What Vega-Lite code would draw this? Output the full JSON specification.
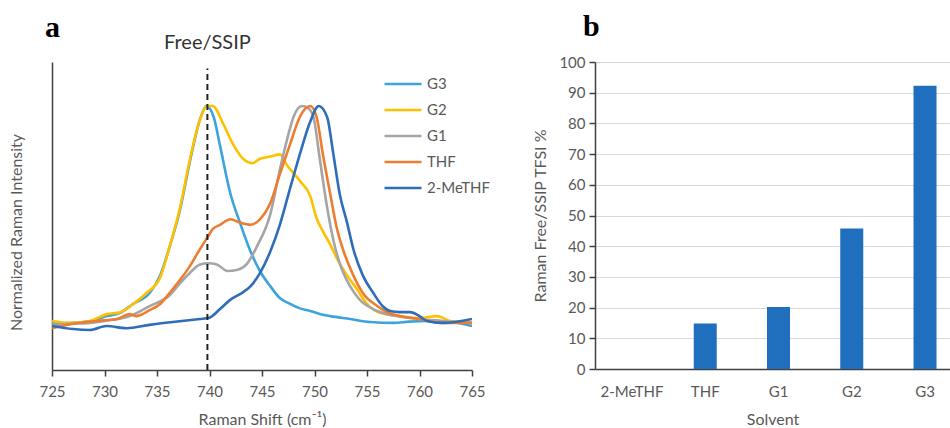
{
  "$schema": "https://vega.github.io/schema/vega-lite/v6.json",
  "background": "white",
  "padding": {"left": 8, "top": 12, "right": 0, "bottom": 0},
  "bounds": "flush",
  "spacing": 123,
  "config": {
    "font": "Lato",
    "view": {"stroke": null},
    "axis": {
      "labelColor": "#595959",
      "titleColor": "#595959",
      "labelFont": "Lato",
      "titleFont": "Lato",
      "labelFontSize": 15,
      "titleFontSize": 16,
      "titleFontWeight": "normal",
      "domainColor": "#404040",
      "tickColor": "#404040",
      "domainWidth": 1.5
    }
  },
  "datasets": {
    "spectra": [
      {"solvent":"G3","shift":725,"intensity":0.01},{"solvent":"G3","shift":727,"intensity":0.014},{"solvent":"G3","shift":728.5,"intensity":0.02},{"solvent":"G3","shift":730.2,"intensity":0.045},{"solvent":"G3","shift":731.5,"intensity":0.06},{"solvent":"G3","shift":732.7,"intensity":0.1},{"solvent":"G3","shift":734.3,"intensity":0.15},{"solvent":"G3","shift":735.3,"intensity":0.23},{"solvent":"G3","shift":736.2,"intensity":0.36},{"solvent":"G3","shift":737.2,"intensity":0.53},{"solvent":"G3","shift":738.1,"intensity":0.74},{"solvent":"G3","shift":739.1,"intensity":0.94},{"solvent":"G3","shift":739.7,"intensity":1.0},{"solvent":"G3","shift":740.4,"intensity":0.95},{"solvent":"G3","shift":741,"intensity":0.82},{"solvent":"G3","shift":742,"intensity":0.6},{"solvent":"G3","shift":742.9,"intensity":0.47},{"solvent":"G3","shift":743.9,"intensity":0.34},{"solvent":"G3","shift":744.8,"intensity":0.25},{"solvent":"G3","shift":745.8,"intensity":0.18},{"solvent":"G3","shift":746.7,"intensity":0.127},{"solvent":"G3","shift":747.7,"intensity":0.1},{"solvent":"G3","shift":748.6,"intensity":0.08},{"solvent":"G3","shift":749.6,"intensity":0.068},{"solvent":"G3","shift":750.5,"intensity":0.055},{"solvent":"G3","shift":751.5,"intensity":0.045},{"solvent":"G3","shift":753.4,"intensity":0.032},{"solvent":"G3","shift":755.3,"intensity":0.018},{"solvent":"G3","shift":757.5,"intensity":0.014},{"solvent":"G3","shift":759,"intensity":0.02},{"solvent":"G3","shift":760.7,"intensity":0.023},{"solvent":"G3","shift":763,"intensity":0.018},{"solvent":"G3","shift":765,"intensity":0.0},
      {"solvent":"G2","shift":725,"intensity":0.023},{"solvent":"G2","shift":726.7,"intensity":0.014},{"solvent":"G2","shift":728.6,"intensity":0.023},{"solvent":"G2","shift":730.2,"intensity":0.054},{"solvent":"G2","shift":731.5,"intensity":0.063},{"solvent":"G2","shift":733.1,"intensity":0.113},{"solvent":"G2","shift":734,"intensity":0.15},{"solvent":"G2","shift":735.3,"intensity":0.22},{"solvent":"G2","shift":736.2,"intensity":0.36},{"solvent":"G2","shift":737.2,"intensity":0.54},{"solvent":"G2","shift":738.1,"intensity":0.75},{"solvent":"G2","shift":739.1,"intensity":0.94},{"solvent":"G2","shift":739.8,"intensity":1.0},{"solvent":"G2","shift":740.3,"intensity":1.0},{"solvent":"G2","shift":741.3,"intensity":0.92},{"solvent":"G2","shift":742.2,"intensity":0.83},{"solvent":"G2","shift":743.2,"intensity":0.76},{"solvent":"G2","shift":744.1,"intensity":0.74},{"solvent":"G2","shift":744.8,"intensity":0.76},{"solvent":"G2","shift":745.8,"intensity":0.77},{"solvent":"G2","shift":746.7,"intensity":0.78},{"solvent":"G2","shift":747.4,"intensity":0.73},{"solvent":"G2","shift":748.6,"intensity":0.66},{"solvent":"G2","shift":749.6,"intensity":0.59},{"solvent":"G2","shift":750.2,"intensity":0.49},{"solvent":"G2","shift":750.8,"intensity":0.43},{"solvent":"G2","shift":751.5,"intensity":0.37},{"solvent":"G2","shift":752.1,"intensity":0.31},{"solvent":"G2","shift":753.1,"intensity":0.23},{"solvent":"G2","shift":754,"intensity":0.17},{"solvent":"G2","shift":755,"intensity":0.1},{"solvent":"G2","shift":756.2,"intensity":0.06},{"solvent":"G2","shift":758.1,"intensity":0.045},{"solvent":"G2","shift":760,"intensity":0.036},{"solvent":"G2","shift":761.7,"intensity":0.045},{"solvent":"G2","shift":762.9,"intensity":0.023},{"solvent":"G2","shift":765,"intensity":0.014},
      {"solvent":"G1","shift":725,"intensity":0.005},{"solvent":"G1","shift":727,"intensity":0.01},{"solvent":"G1","shift":728.6,"intensity":0.014},{"solvent":"G1","shift":730,"intensity":0.023},{"solvent":"G1","shift":732.4,"intensity":0.045},{"solvent":"G1","shift":734.3,"intensity":0.09},{"solvent":"G1","shift":736.2,"intensity":0.14},{"solvent":"G1","shift":737.2,"intensity":0.195},{"solvent":"G1","shift":738.1,"intensity":0.24},{"solvent":"G1","shift":739.1,"intensity":0.28},{"solvent":"G1","shift":739.9,"intensity":0.285},{"solvent":"G1","shift":740.7,"intensity":0.28},{"solvent":"G1","shift":741.7,"intensity":0.25},{"solvent":"G1","shift":742.6,"intensity":0.255},{"solvent":"G1","shift":743.6,"intensity":0.285},{"solvent":"G1","shift":744.5,"intensity":0.36},{"solvent":"G1","shift":745.8,"intensity":0.51},{"solvent":"G1","shift":746.7,"intensity":0.71},{"solvent":"G1","shift":747.4,"intensity":0.85},{"solvent":"G1","shift":748,"intensity":0.95},{"solvent":"G1","shift":748.8,"intensity":1.0},{"solvent":"G1","shift":749.4,"intensity":0.99},{"solvent":"G1","shift":749.9,"intensity":0.95},{"solvent":"G1","shift":750.5,"intensity":0.76},{"solvent":"G1","shift":751.2,"intensity":0.54},{"solvent":"G1","shift":751.8,"intensity":0.39},{"solvent":"G1","shift":752.4,"intensity":0.285},{"solvent":"G1","shift":753.4,"intensity":0.18},{"solvent":"G1","shift":754.3,"intensity":0.12},{"solvent":"G1","shift":755.6,"intensity":0.077},{"solvent":"G1","shift":756.9,"intensity":0.054},{"solvent":"G1","shift":759.1,"intensity":0.036},{"solvent":"G1","shift":762.2,"intensity":0.023},{"solvent":"G1","shift":765,"intensity":0.014},
      {"solvent":"THF","shift":725,"intensity":-0.01},{"solvent":"THF","shift":727,"intensity":0.01},{"solvent":"THF","shift":729.3,"intensity":0.023},{"solvent":"THF","shift":731.2,"intensity":0.032},{"solvent":"THF","shift":732.4,"intensity":0.054},{"solvent":"THF","shift":733,"intensity":0.045},{"solvent":"THF","shift":734.3,"intensity":0.072},{"solvent":"THF","shift":735.3,"intensity":0.1},{"solvent":"THF","shift":736.2,"intensity":0.15},{"solvent":"THF","shift":737.2,"intensity":0.21},{"solvent":"THF","shift":738.1,"intensity":0.27},{"solvent":"THF","shift":739.1,"intensity":0.35},{"solvent":"THF","shift":739.9,"intensity":0.41},{"solvent":"THF","shift":740.3,"intensity":0.44},{"solvent":"THF","shift":741,"intensity":0.46},{"solvent":"THF","shift":742,"intensity":0.485},{"solvent":"THF","shift":742.9,"intensity":0.47},{"solvent":"THF","shift":743.9,"intensity":0.46},{"solvent":"THF","shift":744.8,"intensity":0.485},{"solvent":"THF","shift":745.8,"intensity":0.56},{"solvent":"THF","shift":746.7,"intensity":0.69},{"solvent":"THF","shift":747.7,"intensity":0.83},{"solvent":"THF","shift":748.6,"intensity":0.95},{"solvent":"THF","shift":749.6,"intensity":1.0},{"solvent":"THF","shift":750.2,"intensity":0.95},{"solvent":"THF","shift":750.8,"intensity":0.78},{"solvent":"THF","shift":751.5,"intensity":0.6},{"solvent":"THF","shift":752.1,"intensity":0.45},{"solvent":"THF","shift":752.7,"intensity":0.35},{"solvent":"THF","shift":753.7,"intensity":0.23},{"solvent":"THF","shift":754.6,"intensity":0.15},{"solvent":"THF","shift":756,"intensity":0.09},{"solvent":"THF","shift":757,"intensity":0.06},{"solvent":"THF","shift":758.1,"intensity":0.045},{"solvent":"THF","shift":760,"intensity":0.032},{"solvent":"THF","shift":762.2,"intensity":0.014},{"solvent":"THF","shift":765,"intensity":0.014},
      {"solvent":"2-MeTHF","shift":725,"intensity":0.0},{"solvent":"2-MeTHF","shift":727,"intensity":-0.014},{"solvent":"2-MeTHF","shift":728.6,"intensity":-0.018},{"solvent":"2-MeTHF","shift":730.2,"intensity":0.0},{"solvent":"2-MeTHF","shift":732.1,"intensity":-0.01},{"solvent":"2-MeTHF","shift":734.3,"intensity":0.005},{"solvent":"2-MeTHF","shift":736.5,"intensity":0.018},{"solvent":"2-MeTHF","shift":739.1,"intensity":0.032},{"solvent":"2-MeTHF","shift":739.9,"intensity":0.036},{"solvent":"2-MeTHF","shift":741,"intensity":0.077},{"solvent":"2-MeTHF","shift":742,"intensity":0.12},{"solvent":"2-MeTHF","shift":742.9,"intensity":0.145},{"solvent":"2-MeTHF","shift":743.9,"intensity":0.18},{"solvent":"2-MeTHF","shift":744.8,"intensity":0.24},{"solvent":"2-MeTHF","shift":745.8,"intensity":0.34},{"solvent":"2-MeTHF","shift":746.7,"intensity":0.46},{"solvent":"2-MeTHF","shift":747.7,"intensity":0.63},{"solvent":"2-MeTHF","shift":748.6,"intensity":0.78},{"solvent":"2-MeTHF","shift":749.6,"intensity":0.93},{"solvent":"2-MeTHF","shift":750.4,"intensity":1.0},{"solvent":"2-MeTHF","shift":751.2,"intensity":0.95},{"solvent":"2-MeTHF","shift":751.8,"intensity":0.78},{"solvent":"2-MeTHF","shift":752.4,"intensity":0.6},{"solvent":"2-MeTHF","shift":753.1,"intensity":0.47},{"solvent":"2-MeTHF","shift":753.7,"intensity":0.35},{"solvent":"2-MeTHF","shift":754.6,"intensity":0.23},{"solvent":"2-MeTHF","shift":755.6,"intensity":0.15},{"solvent":"2-MeTHF","shift":756.5,"intensity":0.09},{"solvent":"2-MeTHF","shift":757.2,"intensity":0.068},{"solvent":"2-MeTHF","shift":758.1,"intensity":0.063},{"solvent":"2-MeTHF","shift":759.1,"intensity":0.063},{"solvent":"2-MeTHF","shift":760,"intensity":0.045},{"solvent":"2-MeTHF","shift":760.7,"intensity":0.023},{"solvent":"2-MeTHF","shift":762.2,"intensity":0.014},{"solvent":"2-MeTHF","shift":765,"intensity":0.032}
    ],
    "ratio": [
      {"solvent":"2-MeTHF","percent":0},
      {"solvent":"THF","percent":14.8},
      {"solvent":"G1","percent":20.2},
      {"solvent":"G2","percent":45.8},
      {"solvent":"G3","percent":92.3}
    ]
  },
  "hconcat": [
    {
      "width": 420,
      "height": 308,
      "title": {"text": "a", "anchor": "start", "frame": "group", "dx": -7, "font": "Liberation Serif", "fontSize": 30, "fontWeight": "bold", "color": "black", "offset": -10},
      "layer": [
        {
          "data": {"name": "spectra"},
          "mark": {"type": "line", "strokeWidth": 2.6, "interpolate": "monotone", "clip": true},
          "encoding": {
            "x": {"field": "shift", "type": "quantitative",
              "scale": {"domain": [725, 765], "nice": false, "zero": false},
              "axis": {"title": "Raman Shift (cm⁻¹)", "values": [725,730,735,740,745,750,755,760,765], "tickSize": 6, "tickWidth": 1.5, "labelPadding": 8, "grid": false, "titlePadding": 12, "labelFlush": false}},
            "y": {"field": "intensity", "type": "quantitative",
              "scale": {"domain": [-0.2, 1.2], "nice": false, "zero": false},
              "axis": {"title": "Normalized Raman Intensity", "labels": false, "ticks": false, "grid": false, "titlePadding": 28, "titleY": 170}},
            "color": {"field": "solvent", "type": "nominal",
              "scale": {"domain": ["G3","G2","G1","THF","2-MeTHF"], "range": ["#3BA3DD","#FFC000","#A5A5A5","#ED7D31","#2E6DBA"]},
              "legend": {"title": null, "orient": "none", "legendX": 331, "legendY": 14, "symbolType": "stroke", "symbolSize": 1369, "symbolStrokeWidth": 2.5, "labelFontSize": 15, "labelColor": "#595959", "labelFont": "Lato", "clipHeight": 16, "rowPadding": 10, "labelOffset": 4}}
          }
        },
        {
          "data": {"values": [{"shift": 739.8, "low": -0.2, "high": 1.17}]},
          "mark": {"type": "rule", "strokeDash": [6, 4], "strokeWidth": 2, "color": "#222222"},
          "encoding": {
            "x": {"field": "shift", "type": "quantitative"},
            "y": {"field": "low", "type": "quantitative"},
            "y2": {"field": "high"}
          }
        },
        {
          "data": {"values": [{"shift": 739.8, "level": 1.286, "label": "Free/SSIP"}]},
          "mark": {"type": "text", "fontSize": 20, "font": "Lato", "color": "#333333", "clip": false, "baseline": "middle"},
          "encoding": {
            "x": {"field": "shift", "type": "quantitative"},
            "y": {"field": "level", "type": "quantitative"},
            "text": {"field": "label"}
          }
        }
      ]
    },
    {
      "width": 355,
      "height": 307,
      "title": {"text": "b", "anchor": "start", "frame": "group", "dx": -12, "font": "Liberation Serif", "fontSize": 30, "fontWeight": "bold", "color": "black", "offset": 13},
      "data": {"name": "ratio"},
      "mark": {"type": "bar", "color": "#1F6FBE"},
      "encoding": {
        "x": {"field": "solvent", "type": "nominal", "sort": ["2-MeTHF","THF","G1","G2","G3"],
          "scale": {"paddingInner": 0.686, "paddingOuter": 0.266, "align": 0.654},
          "axis": {"title": "Solvent", "labelAngle": 0, "ticks": false, "labelPadding": 15, "titlePadding": 12}},
        "y": {"field": "percent", "type": "quantitative",
          "scale": {"domain": [0, 100], "nice": false},
          "axis": {"title": "Raman Free/SSIP TFSI %", "values": [0,10,20,30,40,50,60,70,80,90,100], "tickSize": 6, "tickWidth": 1.5, "labelPadding": 4, "grid": true, "gridColor": "#D9D9D9", "gridWidth": 1, "titlePadding": 10}}
      }
    }
  ]
}
